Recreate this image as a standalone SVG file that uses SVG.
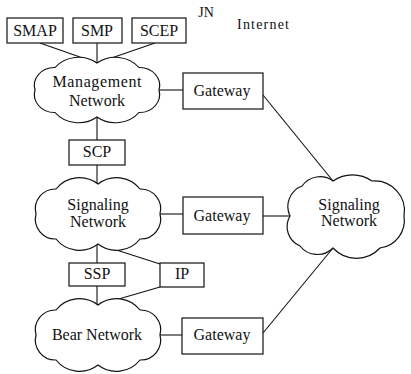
<svg xmlns="http://www.w3.org/2000/svg" width="411" height="374" viewBox="0 0 411 374" font-family="'Liberation Serif', 'DejaVu Serif', serif">
<style>
.b{fill:#fff;stroke:#111;stroke-width:1.2}
.c{fill:#fff;stroke:#111;stroke-width:1.2}
.l{fill:none;stroke:#111;stroke-width:1.1}
text{font-family:'Liberation Serif','DejaVu Serif',serif;font-size:16px;fill:#111;text-anchor:middle}
</style>
<defs>
<path id="cloud" d="M0,-30 A30,30 0 0 1 42,-25 A20,20 0 0 1 62,0 A20,20 0 0 1 42,25 A30,30 0 0 1 0,30 A30,30 0 0 1 -42,25 A20,20 0 0 1 -62,0 A20,20 0 0 1 -42,-25 A30,30 0 0 1 0,-30 Z"/>
</defs>
<rect width="411" height="374" fill="#fff"/>
<g id="connectors">
<line class="l" x1="40" y1="43" x2="97" y2="63"/>
<line class="l" x1="97" y1="43" x2="97" y2="63"/>
<line class="l" x1="155" y1="43" x2="97" y2="63"/>
<line class="l" x1="159" y1="90" x2="183" y2="90"/>
<line class="l" x1="97" y1="117" x2="97" y2="140"/>
<line class="l" x1="97" y1="165" x2="97" y2="184"/>
<line class="l" x1="160" y1="214" x2="183" y2="214"/>
<line class="l" x1="263" y1="216" x2="290" y2="216"/>
<line class="l" x1="263" y1="95" x2="333" y2="181"/>
<line class="l" x1="97" y1="244" x2="97" y2="263"/>
<line class="l" x1="104" y1="246" x2="160" y2="264"/>
<line class="l" x1="97" y1="286" x2="97" y2="305"/>
<line class="l" x1="160" y1="287" x2="98" y2="305"/>
<line class="l" x1="160" y1="335" x2="182" y2="335"/>
<line class="l" x1="263" y1="333" x2="333" y2="248"/>
</g>
<g id="smap"><rect class="b" x="7" y="18" width="56" height="25"/><text x="35" y="36">SMAP</text></g>
<g id="smp"><rect class="b" x="73" y="18" width="49" height="25"/><text x="97" y="36">SMP</text></g>
<g id="scep"><rect class="b" x="132" y="18" width="54" height="25"/><text x="159" y="36">SCEP</text></g>
<g id="jn"><text x="206" y="17" font-size="14" style="font-size:14px">JN</text></g>
<g id="internet"><text x="263" y="29" style="font-size:14px" textLength="52" lengthAdjust="spacing">Internet</text></g>
<g id="management">
<use href="#cloud" class="c" transform="translate(97,90) scale(1,0.9)"/>
<text x="97" y="87" textLength="89" lengthAdjust="spacing">Management</text>
<text x="97" y="106">Network</text>
</g>
<g id="gateway1"><rect class="b" x="183" y="73" width="80" height="36"/><text x="222" y="96">Gateway</text></g>
<g id="scp"><rect class="b" x="69" y="140" width="56" height="25"/><text x="97" y="157">SCP</text></g>
<g id="signaling">
<use href="#cloud" class="c" transform="translate(98,214)"/>
<text x="98" y="210">Signaling</text>
<text x="98" y="227">Network</text>
</g>
<g id="gateway2"><rect class="b" x="183" y="197" width="80" height="37"/><text x="222" y="221">Gateway</text></g>
<g id="signaling2">
<path class="c" d="M333,181 A34,34 0 0 1 372,181 A30,30 0 0 1 404,216 A28,28 0 0 1 380,248 A32,32 0 0 1 333,248 A22,22 0 0 1 300,246 A21,21 0 0 1 290,216 A22,22 0 0 1 302,186 A22,22 0 0 1 333,181 Z"/>
<text x="349" y="210">Signaling</text>
<text x="349" y="226">Network</text>
</g>
<g id="ssp"><rect class="b" x="69" y="263" width="56" height="23"/><text x="97" y="279">SSP</text></g>
<g id="ip"><rect class="b" x="160" y="263" width="44" height="24"/><text x="182" y="279">IP</text></g>
<g id="bear">
<use href="#cloud" class="c" transform="translate(98,335)"/>
<text x="97" y="340">Bear  Network</text>
</g>
<g id="gateway3"><rect class="b" x="182" y="318" width="81" height="36"/><text x="222" y="340">Gateway</text></g>
</svg>
